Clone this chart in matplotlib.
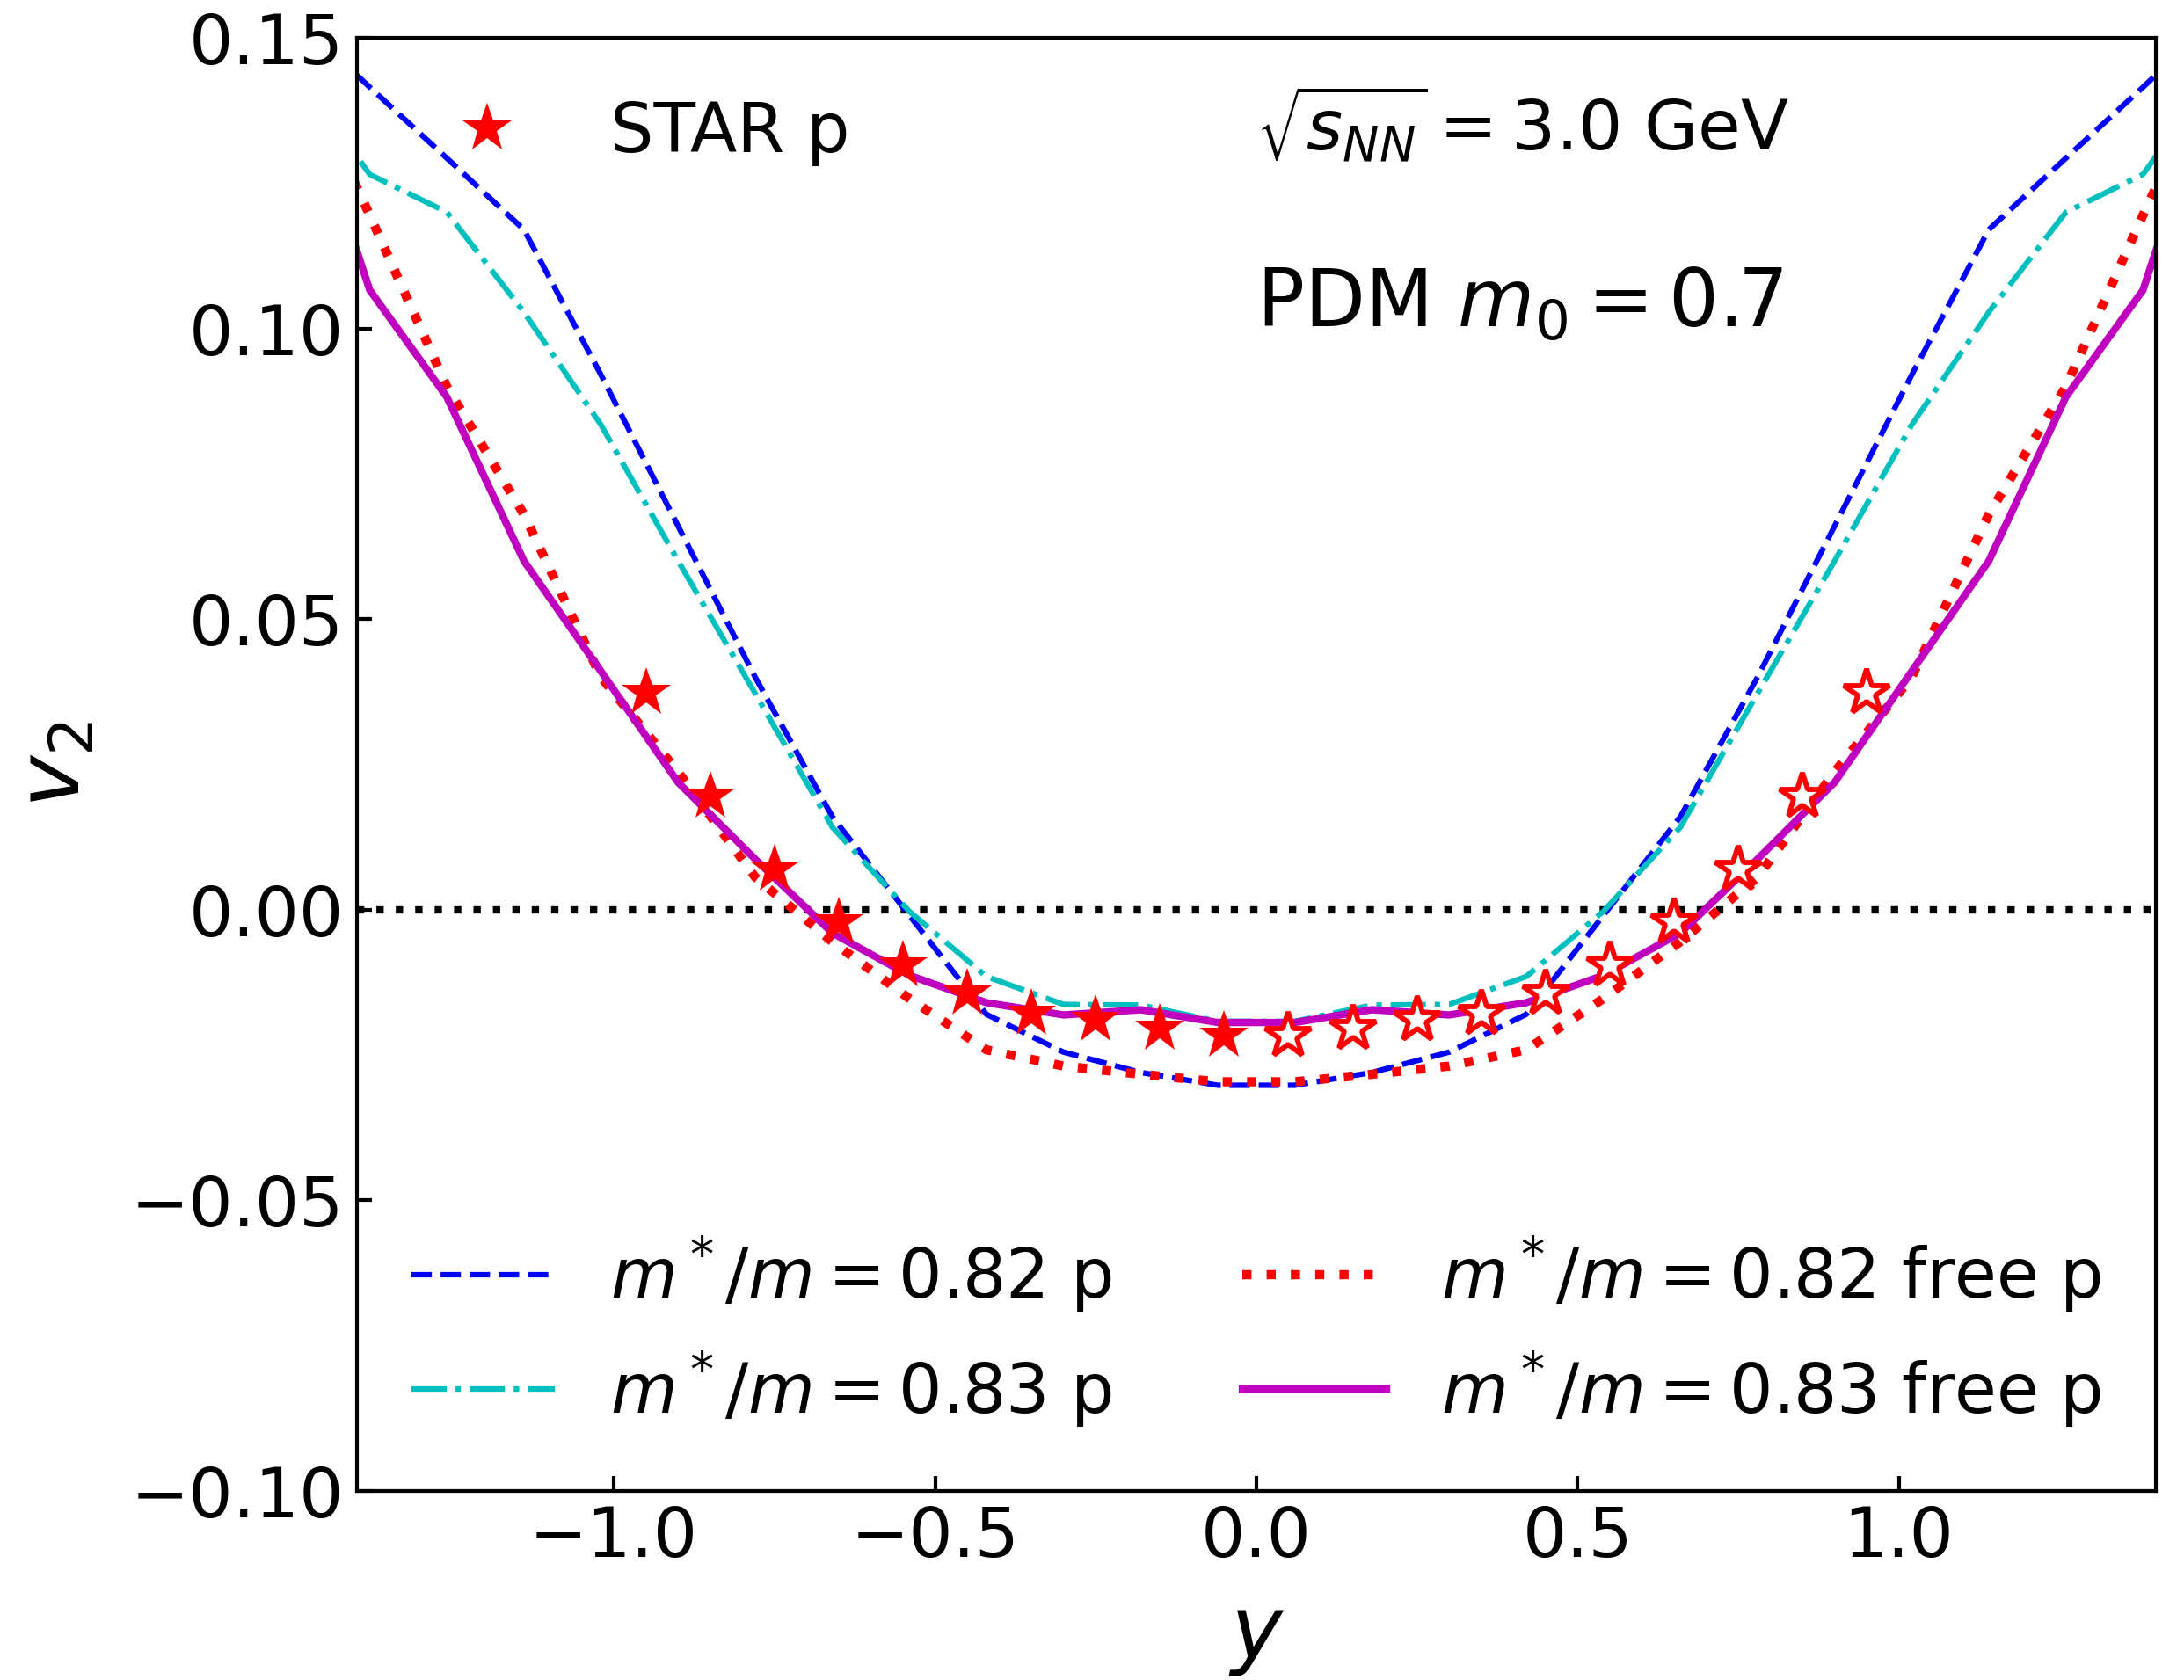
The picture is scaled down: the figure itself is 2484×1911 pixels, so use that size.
import numpy as np
import matplotlib
matplotlib.use("Agg")
from matplotlib import pyplot as plt

# rapidity grid of the model curves
y_grid = [-1.50, -1.38, -1.26, -1.14, -1.02, -0.90, -0.78, -0.66, -0.54, -0.42, -0.30, -0.18, -0.06,
          0.06, 0.18, 0.30, 0.42, 0.54, 0.66, 0.78, 0.90, 1.02, 1.14, 1.26, 1.38, 1.50]

v2_082 = [0.1540, 0.1415, 0.1293, 0.1170, 0.0920, 0.0660, 0.0400, 0.0160, -0.0010, -0.0180, -0.0245, -0.0280, -0.0302,
          -0.0302, -0.0280, -0.0245, -0.0180, -0.0010, 0.0160, 0.0400, 0.0660, 0.0920, 0.1170, 0.1293, 0.1415, 0.1540]
v2_083 = [0.1450, 0.1265, 0.1200, 0.1028, 0.0834, 0.0600, 0.0372, 0.0142, -0.0003, -0.0115, -0.0163, -0.0164, -0.0192,
          -0.0192, -0.0164, -0.0163, -0.0115, -0.0003, 0.0142, 0.0372, 0.0600, 0.0834, 0.1028, 0.1200, 0.1265, 0.1450]
v2_082_free = [0.1480, 0.1195, 0.0900, 0.0680, 0.0400, 0.0237, 0.0056, -0.0055, -0.0153, -0.0241, -0.0269, -0.0283, -0.0296,
               -0.0296, -0.0283, -0.0269, -0.0241, -0.0153, -0.0055, 0.0056, 0.0237, 0.0400, 0.0680, 0.0900, 0.1195, 0.1480]
v2_083_free = [0.1470, 0.1066, 0.0882, 0.0600, 0.0410, 0.0219, 0.0087, -0.0040, -0.0113, -0.0160, -0.0181, -0.0172, -0.0194,
               -0.0194, -0.0172, -0.0181, -0.0160, -0.0113, -0.0040, 0.0087, 0.0219, 0.0410, 0.0600, 0.0882, 0.1066, 0.1470]

# STAR data (filled: measured, open: reflected)
star_y = [-0.95, -0.85, -0.75, -0.65, -0.55, -0.45, -0.35, -0.25, -0.15, -0.05]
star_v2 = [0.0374, 0.0195, 0.0069, -0.0022, -0.0096, -0.0144, -0.0179, -0.0189, -0.0204, -0.0217]
star_y_refl = [0.05, 0.15, 0.25, 0.35, 0.45, 0.55, 0.65, 0.75, 0.85, 0.95]
star_v2_refl = [-0.0217, -0.0204, -0.0189, -0.0179, -0.0144, -0.0096, -0.0022, 0.0069, 0.0195, 0.0374]

fig = plt.figure(figsize=(8.28, 6.37), dpi=300)
ax = fig.add_axes([0.1634, 0.1125, 0.8237, 0.865])

ax.axhline(0, color='k', ls=':', lw=2)

l1, = ax.plot(y_grid, v2_082, 'b--', lw=1.5, label=r'$m^*/m = 0.82$ p')
l2, = ax.plot(y_grid, v2_083, 'c-.', lw=1.5, label=r'$m^*/m = 0.83$ p')
l3, = ax.plot(y_grid, v2_082_free, 'r:', lw=2.5, label=r'$m^*/m = 0.82$ free p')
l4, = ax.plot(y_grid, v2_083_free, 'm-', lw=2, label=r'$m^*/m = 0.83$ free p')

st, = ax.plot(star_y, star_v2, 'r*', ms=14, mew=0, ls='none', label='STAR p')
ax.plot(star_y_refl, star_v2_refl, '*', ms=13, mfc='white', mec='r', mew=1.4, ls='none')

ax.set_xlim(-1.4, 1.4)
ax.set_ylim(-0.10, 0.15)
ax.set_xticks([-1.0, -0.5, 0.0, 0.5, 1.0])
ax.set_yticks([-0.10, -0.05, 0.0, 0.05, 0.10, 0.15])
ax.tick_params(direction='in', length=4, width=1, labelsize=19, top=False, right=False)
for s in ax.spines.values():
    s.set_linewidth(1)

ax.set_xlabel(r'$y$', fontsize=24, labelpad=6)
ax.set_ylabel(r'$v_2$', fontsize=24, labelpad=9)

ax.text(0.0, 0.1306, r'$\sqrt{s_{NN}} = 3.0$ GeV', fontsize=19, va='baseline')
ax.text(0.0, 0.1002, r'PDM $m_0 = 0.7$', fontsize=21.5, va='baseline')

leg1 = ax.legend(handles=[st], loc='upper left', frameon=False, fontsize=18.7)
ax.add_artist(leg1)
ax.legend(handles=[l1, l2, l3, l4], loc='lower center', ncol=2, frameon=False, fontsize=18.7,
          handlelength=2.1, columnspacing=1.9)

fig.savefig('out.png', dpi=300)
